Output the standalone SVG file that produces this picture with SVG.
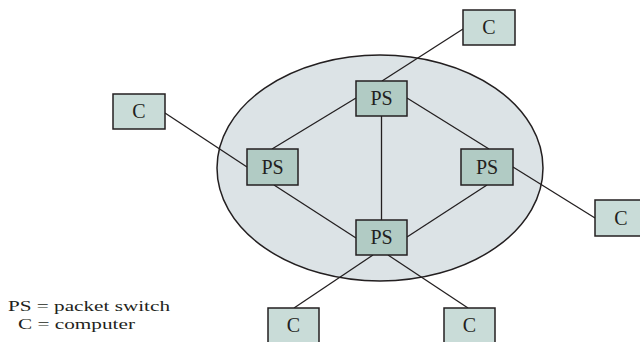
<svg xmlns="http://www.w3.org/2000/svg" width="640" height="342" viewBox="0 0 640 342">
<style>
.ps rect{fill:#b1cbc4;stroke:#231f20;stroke-width:1.5}
.c rect{fill:#c9dcd8;stroke:#231f20;stroke-width:1.5}
text{font-family:"Liberation Serif","Times New Roman",serif;fill:#231f20}
.lbl{font-size:20px;text-anchor:middle}
.leg{font-size:15px}
#links line{stroke:#231f20;stroke-width:1.3}
</style>
<rect width="640" height="342" fill="#fff"/>
<ellipse id="net" cx="380" cy="168" rx="163" ry="113" fill="#dce3e6" stroke="#231f20" stroke-width="1.5"/>
<g id="links">
<line x1="382" y1="81" x2="463" y2="29"/>
<line x1="165" y1="113" x2="247" y2="167"/>
<line x1="513" y1="167" x2="595" y2="218"/>
<line x1="356" y1="98" x2="272" y2="149"/>
<line x1="407" y1="98" x2="489" y2="149"/>
<line x1="381.5" y1="116" x2="381.5" y2="220"/>
<line x1="274" y1="185" x2="356" y2="238"/>
<line x1="487" y1="185" x2="407" y2="237"/>
<line x1="373" y1="255" x2="294" y2="308"/>
<line x1="388" y1="255" x2="468" y2="308"/>
</g>
<g id="ps-top" class="ps"><rect x="356" y="81" width="51" height="35"/><text class="lbl" x="381.5" y="105">PS</text></g>
<g id="ps-left" class="ps"><rect x="247" y="149" width="51" height="36"/><text class="lbl" x="272.5" y="174">PS</text></g>
<g id="ps-right" class="ps"><rect x="461" y="149" width="52" height="36"/><text class="lbl" x="487" y="174">PS</text></g>
<g id="ps-bottom" class="ps"><rect x="356" y="220" width="51" height="35"/><text class="lbl" x="381.5" y="244">PS</text></g>
<g id="c-top" class="c"><rect x="463" y="10" width="52" height="35"/><text class="lbl" x="489" y="34">C</text></g>
<g id="c-left" class="c"><rect x="113" y="94" width="52" height="35"/><text class="lbl" x="139" y="118">C</text></g>
<g id="c-right" class="c"><rect x="595" y="200" width="52" height="36"/><text class="lbl" x="621" y="225">C</text></g>
<g id="c-bl" class="c"><rect x="268" y="308" width="51" height="40"/><text class="lbl" x="293.5" y="332">C</text></g>
<g id="c-br" class="c"><rect x="444" y="308" width="51" height="40"/><text class="lbl" x="469.5" y="332">C</text></g>
<g id="legend">
<text class="leg" x="8" y="310.5" textLength="162" lengthAdjust="spacingAndGlyphs">PS = packet switch</text>
<text class="leg" x="18" y="328.5" textLength="117" lengthAdjust="spacingAndGlyphs">C = computer</text>
</g>
</svg>
